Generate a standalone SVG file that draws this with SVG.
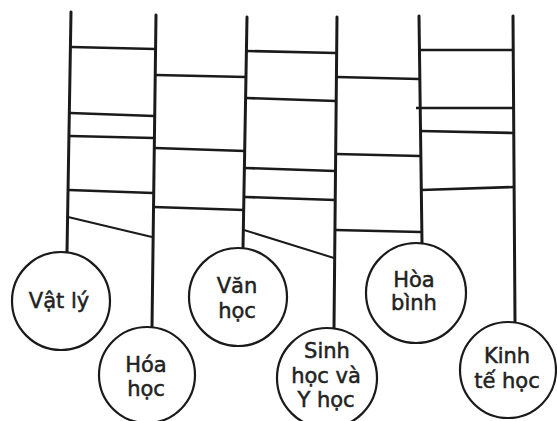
<svg xmlns="http://www.w3.org/2000/svg" width="557" height="421" viewBox="0 0 557 421">
<style>
.bg{fill:#fff}
.node circle{fill:#fff;stroke:#1a1a1a;stroke-width:2.2}
.node text{font-family:"DejaVu Sans","Liberation Sans",sans-serif;font-size:21px;fill:#222;stroke:#222;stroke-width:0.5;text-anchor:middle}
.post{stroke:#1a1a1a;stroke-width:3;fill:none;stroke-linecap:round}
.rung{stroke:#1a1a1a;stroke-width:2.6;fill:none}
.diag{stroke:#1a1a1a;stroke-width:2;fill:none}
</style>
<rect class="bg" width="557" height="421"/>
<g id="connectors">
  <path class="post" d="M71 12 L67 252"/>
  <path class="post" d="M156 15 L152 327"/>
  <path class="post" d="M247 17 L243 248"/>
  <path class="post" d="M337 17 L334 328"/>
  <path class="post" d="M419 16 L422 243"/>
  <path class="post" d="M513 16 L515 322"/>
  <path class="rung" d="M71 47 L155 49"/>
  <path class="rung" d="M70 113 L154 116"/>
  <path class="rung" d="M70 136 L154 138"/>
  <path class="rung" d="M69 190 L153 193"/>
  <path class="diag" d="M68 217 L152 237"/>
  <path class="rung" d="M156 75 L246 77"/>
  <path class="rung" d="M155 148 L245 151"/>
  <path class="rung" d="M154 207 L244 210"/>
  <path class="rung" d="M247 51 L336 53"/>
  <path class="rung" d="M246 98 L336 101"/>
  <path class="rung" d="M245 168 L335 171"/>
  <path class="rung" d="M245 197 L335 200"/>
  <path class="diag" d="M244 230 L334 258"/>
  <path class="rung" d="M337 77 L419 79"/>
  <path class="rung" d="M336 154 L420 156"/>
  <path class="rung" d="M335 230 L421 232"/>
  <path class="rung" d="M420 50 L513 50"/>
  <path class="rung" d="M416 108 L514 108"/>
  <path class="rung" d="M420 131 L514 133"/>
  <path class="rung" d="M421 190 L514 187"/>
</g>
<g id="vat-ly" class="node">
  <circle cx="61" cy="301" r="49"/>
  <text x="59" y="308">Vật lý</text>
</g>
<g id="hoa-hoc" class="node">
  <circle cx="147" cy="375" r="48"/>
  <text x="146" y="372">Hóa</text>
  <text x="146" y="396">học</text>
</g>
<g id="van-hoc" class="node">
  <circle cx="238" cy="297" r="49"/>
  <text x="237" y="293">Văn</text>
  <text x="237" y="318">học</text>
</g>
<g id="sinh-hoc-va-y-hoc" class="node">
  <circle cx="327" cy="378" r="50"/>
  <text x="327" y="358">Sinh</text>
  <text x="326" y="383">học và</text>
  <text x="326" y="407">Y học</text>
</g>
<g id="hoa-binh" class="node">
  <circle cx="416" cy="293" r="50"/>
  <text x="414" y="287">Hòa</text>
  <text x="414" y="310">bình</text>
</g>
<g id="kinh-te-hoc" class="node">
  <circle cx="508" cy="370" r="48"/>
  <text x="507" y="363">Kinh</text>
  <text x="507" y="388">tế học</text>
</g>
</svg>
